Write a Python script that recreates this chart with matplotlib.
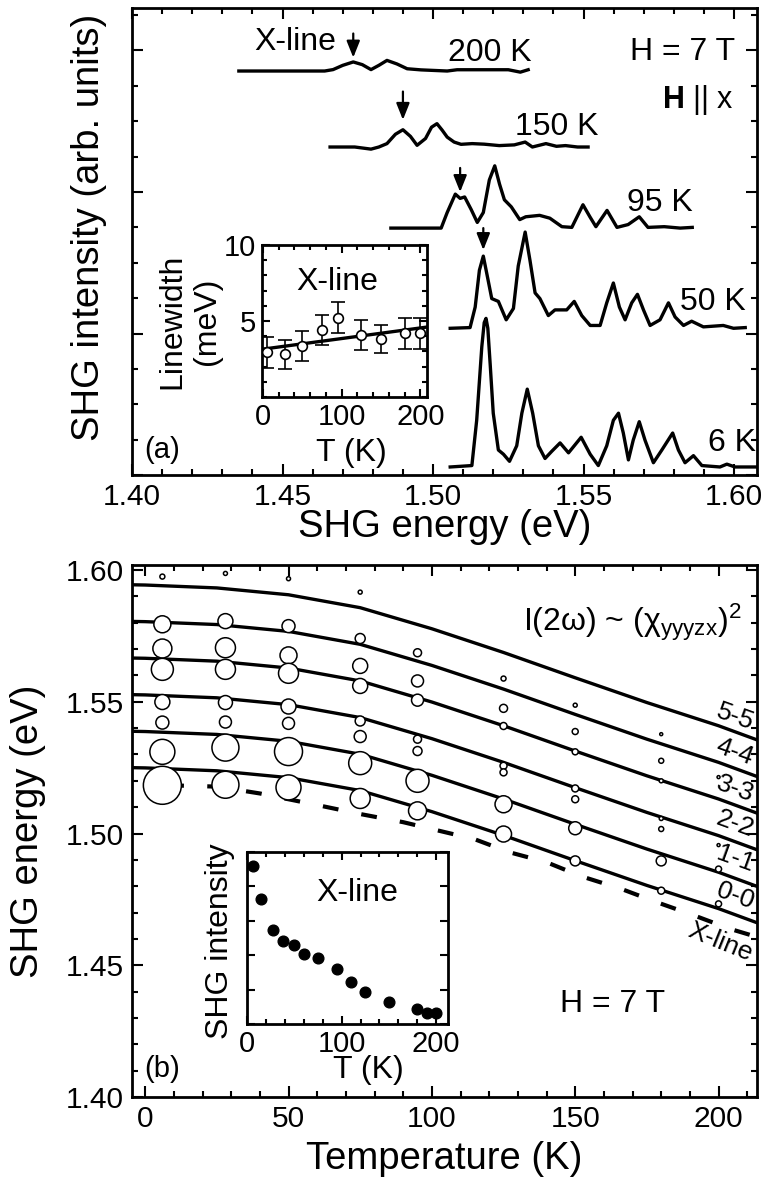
import numpy as np
import matplotlib
matplotlib.use('Agg')
import matplotlib.pyplot as plt
from matplotlib.ticker import MultipleLocator, FixedLocator, FormatStrFormatter, NullFormatter

plt.rcParams['font.family'] = ['Liberation Sans', 'DejaVu Sans']
plt.rcParams['mathtext.fontset'] = 'custom'
plt.rcParams['mathtext.rm'] = 'Liberation Sans'
plt.rcParams['mathtext.it'] = 'Liberation Sans'
plt.rcParams['mathtext.bf'] = 'Liberation Sans:bold'
plt.rcParams['axes.linewidth'] = 2.0

# ---------------- (a) SHG spectra, H = 7 T ----------------
spec_labels = ['6 K', '50 K', '95 K', '150 K', '200 K']
spec_offset = [0.057, 1.037, 1.745, 2.318, 2.855]

E_6K = [1.5057, 1.5129, 1.5145, 1.5162, 1.5170, 1.5176, 1.5182, 1.5190, 1.5200, 1.5217,
        1.5234, 1.5254, 1.5278, 1.5295, 1.5313, 1.5331, 1.5350, 1.5372, 1.5394, 1.5422,
        1.5450, 1.5492, 1.5522, 1.5549, 1.5577, 1.5599, 1.5616, 1.5632, 1.5649, 1.5665,
        1.5685, 1.5704, 1.5732, 1.5760, 1.5796, 1.5815, 1.5837, 1.5865, 1.5893, 1.5953,
        1.5976, 1.6003, 1.6086]
I_6K = [0.0, 0.01, 0.33, 0.85, 1.02, 1.05, 0.98, 0.72, 0.38, 0.12,
        0.09, 0.04, 0.15, 0.38, 0.55, 0.38, 0.15, 0.06, 0.11, 0.17,
        0.10, 0.21, 0.09, 0.01, 0.15, 0.33, 0.38, 0.24, 0.05, 0.19,
        0.32, 0.19, 0.03, 0.12, 0.24, 0.12, 0.03, 0.08, 0.01, 0.0,
        0.02, 0.0, 0.0]

E_50K = [1.5057, 1.5123, 1.5140, 1.5154, 1.5167, 1.5182, 1.5195, 1.5217, 1.5243, 1.5267,
         1.5283, 1.5306, 1.5322, 1.5339, 1.5355, 1.5383, 1.5405, 1.5444, 1.5469, 1.5494,
         1.5522, 1.5555, 1.5577, 1.5599, 1.5619, 1.5638, 1.5660, 1.5679, 1.5699, 1.5721,
         1.5754, 1.5782, 1.5804, 1.5832, 1.5859, 1.5898, 1.5964, 1.5998, 1.6037]
I_50K = [0.0, 0.005, 0.15, 0.41, 0.51, 0.35, 0.21, 0.19, 0.06, 0.14,
         0.44, 0.68, 0.48, 0.25, 0.21, 0.09, 0.13, 0.13, 0.19, 0.09,
         0.02, 0.02, 0.18, 0.32, 0.15, 0.06, 0.18, 0.24, 0.13, 0.02,
         0.06, 0.18, 0.08, 0.02, 0.05, 0.01, 0.02, 0.0, 0.005]

E_95K = [1.4860, 1.5027, 1.5047, 1.5074, 1.5090, 1.5105, 1.5127, 1.5147, 1.5167, 1.5187,
         1.5205, 1.5221, 1.5237, 1.5260, 1.5288, 1.5308, 1.5354, 1.5388, 1.5428, 1.5461,
         1.5498, 1.5521, 1.5541, 1.5578, 1.5611, 1.5648, 1.5685, 1.5714, 1.5768, 1.5821,
         1.5861]
I_95K = [0.0, 0.0, 0.11, 0.24, 0.21, 0.22, 0.13, 0.04, 0.11, 0.34,
         0.44, 0.31, 0.20, 0.15, 0.06, 0.08, 0.09, 0.07, 0.01, 0.005,
         0.165, 0.08, 0.01, 0.125, 0.005, 0.025, 0.08, 0.005, 0.01, 0.0,
         0.005]

E_150K = [1.4658, 1.4740, 1.4794, 1.4820, 1.4847, 1.4875, 1.4900, 1.4925, 1.4947, 1.4975,
          1.4995, 1.5013, 1.5030, 1.5047, 1.5070, 1.5093, 1.5130, 1.5170, 1.5220, 1.5270,
          1.5306, 1.5330, 1.5375, 1.5410, 1.5440, 1.5480, 1.5515]
I_150K = [0.0, 0.0, -0.015, 0.0, 0.024, 0.09, 0.122, 0.075, 0.012, 0.06,
          0.14, 0.165, 0.12, 0.07, 0.035, 0.019, 0.024, 0.02, 0.01, 0.015,
          0.035, 0.0, 0.024, 0.005, 0.01, 0.0, 0.0]

E_200K = [1.4355, 1.4500, 1.4640, 1.4668, 1.4700, 1.4735, 1.4765, 1.4794, 1.4820, 1.4847,
          1.4880, 1.4914, 1.4960, 1.5047, 1.5080, 1.5150, 1.5250, 1.5290, 1.5316]
I_200K = [0.0, 0.0, 0.0, 0.01, 0.04, 0.064, 0.045, 0.01, 0.04, 0.075,
          0.05, 0.016, 0.008, 0.0, 0.009, 0.009, 0.009, -0.008, 0.009]

spec_E = [E_6K, E_50K, E_95K, E_150K, E_200K]
spec_I = [I_6K, I_50K, I_95K, I_150K, I_200K]

# X-line arrows (50, 95, 150, 200 K)
arrow_E = [1.5167, 1.5090, 1.4900, 1.4735]
arrow_tip = [1.59, 2.00, 2.51, 2.95]
arrow_tail = [1.745, 2.17, 2.71, 3.12]

# inset (a): X-line linewidth
lw_T = [6, 28, 50, 75, 95, 125, 150, 180, 200]
lw_val = [2.94, 2.81, 3.36, 4.41, 5.22, 4.08, 3.82, 4.19, 4.19]
lw_err = [1.0, 0.95, 1.0, 1.0, 1.0, 1.0, 0.95, 1.0, 1.0]
lw_fit_T = [0, 208]
lw_fit = [3.15, 4.60]

# ---------------- (b) peak energies vs temperature ----------------
fit_T = [-5, 0, 25, 50, 75, 100, 125, 150, 175, 200, 215]
E_00 = [1.5250, 1.5249, 1.5238, 1.5212, 1.5163, 1.5083, 1.4993, 1.4897, 1.4803, 1.4715, 1.4655]
E_11 = [1.5388, 1.5387, 1.5376, 1.5350, 1.5301, 1.5221, 1.5131, 1.5035, 1.4941, 1.4853, 1.4793]
E_22 = [1.5527, 1.5526, 1.5515, 1.5489, 1.5440, 1.5360, 1.5270, 1.5174, 1.5080, 1.4992, 1.4932]
E_33 = [1.5666, 1.5665, 1.5654, 1.5628, 1.5579, 1.5499, 1.5409, 1.5313, 1.5219, 1.5131, 1.5071]
E_44 = [1.5805, 1.5804, 1.5793, 1.5767, 1.5718, 1.5638, 1.5548, 1.5452, 1.5358, 1.5270, 1.5210]
E_55 = [1.5944, 1.5943, 1.5932, 1.5906, 1.5857, 1.5777, 1.5687, 1.5591, 1.5497, 1.5409, 1.5349]
levels = [E_00, E_11, E_22, E_33, E_44, E_55]
level_names = ['0-0', '1-1', '2-2', '3-3', '4-4', '5-5']

xline_T = [8, 25, 40, 60, 75, 90, 100, 115, 127, 140, 152, 166, 178, 191, 204, 212]
xline_E = [1.5183, 1.5178, 1.5152, 1.5108, 1.5074, 1.5043, 1.5017, 1.4978, 1.4929, 1.4891,
           1.4838, 1.4790, 1.4741, 1.4691, 1.4638, 1.4612]

col_T = [6, 28, 50, 75, 95, 125, 150, 180, 200]
col_E = [
    [1.5975, 1.5794, 1.5702, 1.5623, 1.5499, 1.5421, 1.5310, 1.5183],
    [1.5987, 1.5806, 1.5705, 1.5623, 1.5497, 1.5423, 1.5326, 1.5185],
    [1.5967, 1.5787, 1.5676, 1.5608, 1.5482, 1.5418, 1.5311, 1.5175],
    [1.5916, 1.5740, 1.5636, 1.5560, 1.5427, 1.5368, 1.5267, 1.5133],
    [1.5686, 1.5579, 1.5506, 1.5358, 1.5313, 1.5200, 1.5086],
    [1.5588, 1.5475, 1.5408, 1.5257, 1.5232, 1.5111, 1.4998],
    [1.5487, 1.5387, 1.5310, 1.5171, 1.5130, 1.5020, 1.4896],
    [1.5377, 1.5276, 1.5200, 1.5057, 1.5017, 1.4896, 1.4783],
    [1.5214, 1.4956, 1.4865, 1.4733],
]
# relative SHG amplitude (circle diameter)
col_amp = [
    [5, 17, 19, 22, 15, 13, 25, 38],
    [4, 15, 20, 20, 14, 12, 27, 27],
    [4, 13, 17, 20, 15, 12, 28, 25],
    [4, 10, 15, 15, 10, 12, 23, 20],
    [8, 12, 12, 8, 9, 23, 18],
    [5, 8, 7, 7, 7, 17, 16],
    [4, 6, 6, 7, 7, 13, 10],
    [3, 5, 4, 4, 5, 10, 7],
    [3, 3, 6, 6],
]

# inset (b): X-line SHG intensity
xi_T = [6, 15, 27, 38, 50, 60, 75, 95, 110, 125, 150, 180, 190, 200]
xi_I = [4.58, 3.63, 2.73, 2.41, 2.29, 2.02, 1.92, 1.60, 1.23, 0.92, 0.63, 0.43, 0.33, 0.33]

# ------------------------------------------------------------------
fig = plt.figure(figsize=(7.62, 11.82), dpi=100)
ax_a = fig.add_axes([0.1732, 0.5981, 0.8202, 0.3951])
ax_b = fig.add_axes([0.1732, 0.0719, 0.8202, 0.4501])
ins_a = fig.add_axes([0.3438, 0.6641, 0.2165, 0.1286])
ins_b = fig.add_axes([0.3241, 0.1337, 0.2638, 0.1455])

TICK = 21.5
TXT = 23
LAB = 27.5


def style(ax, size=TICK):
    ax.tick_params(which='both', direction='in', top=True, right=True, width=1.5,
                   labelsize=size, pad=6)
    ax.tick_params(which='major', length=8)
    ax.tick_params(which='minor', length=4)


# panel (a)
for E, I, off in zip(spec_E, spec_I, spec_offset):
    ax_a.plot(E, np.array(I) + off, color='k', lw=2.4, solid_joinstyle='round')
for e, tip, tail in zip(arrow_E, arrow_tip, arrow_tail):
    ax_a.annotate('', xy=(e, tip), xytext=(e, tail),
                  arrowprops=dict(arrowstyle='-|>,head_length=0.5,head_width=0.2',
                                  mutation_scale=20, lw=1.6, color='k',
                                  shrinkA=0, shrinkB=0))
ax_a.set_xlim(1.40, 1.6076)
ax_a.set_ylim(0, 3.3)
ax_a.xaxis.set_major_locator(MultipleLocator(0.05))
ax_a.xaxis.set_minor_locator(MultipleLocator(0.01))
ax_a.xaxis.set_major_formatter(FormatStrFormatter('%.2f'))
ax_a.yaxis.set_major_locator(MultipleLocator(1))
ax_a.yaxis.set_minor_locator(MultipleLocator(0.25))
style(ax_a)
ax_a.tick_params(axis='y', labelleft=False)
ax_a.set_xlabel('SHG energy (eV)', fontsize=LAB, va='center')
ax_a.xaxis.set_label_coords(0.5, -0.111)
ax_a.set_ylabel('SHG intensity (arb. units)', fontsize=LAB, va='center')
ax_a.yaxis.set_label_coords(-0.069, 0.53)

ax_a.text(1.4541, 3.06, 'X-line', fontsize=TXT, ha='center', va='center')
ax_a.text(1.519, 2.98, '200 K', fontsize=TXT, ha='center', va='center')
ax_a.text(1.541, 2.46, '150 K', fontsize=TXT, ha='center', va='center')
ax_a.text(1.5755, 1.92, '95 K', fontsize=TXT, ha='center', va='center')
ax_a.text(1.593, 1.22, '50 K', fontsize=TXT, ha='center', va='center')
ax_a.text(1.5993, 0.226, '6 K', fontsize=TXT, ha='center', va='center')
ax_a.text(1.583, 2.99, 'H = 7 T', fontsize=TXT, ha='center', va='center')
ax_a.text(1.588, 2.65, r'$\mathbf{H}$ || x', fontsize=TXT - 1, ha='center', va='center')
ax_a.text(1.41, 0.18, '(a)', fontsize=21, ha='center', va='center')

# inset (a)
ins_a.plot(lw_fit_T, lw_fit, color='k', lw=2.4, zorder=2)
ins_a.errorbar(lw_T, lw_val, yerr=lw_err, fmt='o', ms=7, mfc='white', mec='k', mew=1.2,
               ecolor='k', elinewidth=1.2, capsize=5, capthick=1.2, zorder=3)
ins_a.set_xlim(-1, 208.5)
ins_a.set_ylim(0, 10)
ins_a.xaxis.set_major_locator(MultipleLocator(100))
ins_a.xaxis.set_minor_locator(MultipleLocator(20))
ins_a.yaxis.set_major_locator(FixedLocator([5, 10]))
ins_a.yaxis.set_minor_locator(MultipleLocator(1))
style(ins_a, 21)
ins_a.tick_params(which='major', length=6, pad=4)
ins_a.tick_params(which='minor', length=3.5)
ins_a.set_xlabel('T (K)', fontsize=TXT, va='center')
ins_a.xaxis.set_label_coords(0.539, -0.368)
ins_a.set_ylabel('Linewidth\n(meV)', fontsize=TXT, va='center', linespacing=1.2)
ins_a.yaxis.set_label_coords(-0.436, 0.5)
ins_a.text(95, 7.6, 'X-line', fontsize=TXT, ha='center', va='center')

# panel (b)
for E in levels:
    ax_b.plot(fit_T, E, color='k', lw=2.4, zorder=2)
ax_b.plot(xline_T, xline_E, color='k', lw=3.0, dashes=(3.8, 5.6), zorder=2)
for T, Es, amps in zip(col_T, col_E, col_amp):
    sizes = (np.array(amps) * 0.72) ** 2
    ax_b.scatter([T] * len(Es), Es, s=sizes, facecolors='white', edgecolors='k',
                 linewidths=1.1, zorder=3)
ax_b.set_xlim(-4.6, 213.4)
ax_b.set_ylim(1.40, 1.6019)
ax_b.xaxis.set_major_locator(MultipleLocator(50))
ax_b.xaxis.set_minor_locator(MultipleLocator(10))
ax_b.yaxis.set_major_locator(MultipleLocator(0.05))
ax_b.yaxis.set_minor_locator(MultipleLocator(0.01))
ax_b.yaxis.set_major_formatter(FormatStrFormatter('%.2f'))
style(ax_b)
ax_b.set_xlabel('Temperature (K)', fontsize=LAB, va='center')
ax_b.xaxis.set_label_coords(0.5, -0.1165)
ax_b.set_ylabel('SHG energy (eV)', fontsize=LAB, va='center')
ax_b.yaxis.set_label_coords(-0.1664, 0.5)

label_E = [1.4763, 1.4903, 1.5036, 1.5168, 1.5309, 1.5441]
for name, e in zip(level_names, label_E):
    ax_b.text(205.7, e, name, fontsize=19, rotation=-20, ha='center', va='center')
ax_b.text(200.5, 1.4588, 'X-line', fontsize=19, rotation=-22, ha='center', va='center')
ax_b.text(170, 1.5802, r'I(2ω) ~ (χ$_{\mathrm{yyyzx}}$)$^{2}$', fontsize=TXT,
          ha='center', va='center')
ax_b.text(163.2, 1.4352, 'H = 7 T', fontsize=TXT, ha='center', va='center')
ax_b.text(5.9, 1.4107, '(b)', fontsize=21, ha='center', va='center')

# inset (b)
ins_b.plot(xi_T, xi_I, 'o', color='k', ms=7.7, clip_on=False, zorder=3)
ins_b.set_xlim(0, 212.4)
ins_b.set_ylim(0, 5)
ins_b.xaxis.set_major_locator(MultipleLocator(100))
ins_b.xaxis.set_minor_locator(MultipleLocator(20))
ins_b.yaxis.set_major_locator(MultipleLocator(1))
ins_b.yaxis.set_major_formatter(NullFormatter())
style(ins_b, 21)
ins_b.tick_params(which='major', length=6, pad=4)
ins_b.tick_params(which='minor', length=3.5)
ins_b.set_xlabel('T (K)', fontsize=TXT, va='center')
ins_b.xaxis.set_label_coords(0.602, -0.267)
ins_b.set_ylabel('SHG intensity', fontsize=TXT, va='center')
ins_b.yaxis.set_label_coords(-0.134, 0.483)
ins_b.text(117, 3.8, 'X-line', fontsize=TXT, ha='center', va='center')

fig.savefig('out.png', dpi=100)
